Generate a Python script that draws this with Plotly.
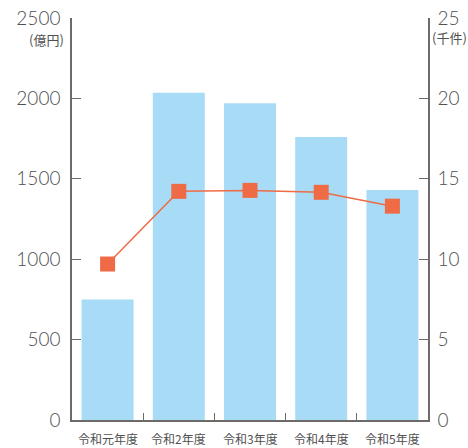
import plotly.graph_objects as go

# Fiscal years, amounts (100 million yen) and counts (thousands)
categories = ["令和元年度", "令和2年度", "令和3年度", "令和4年度", "令和5年度"]
amounts = [750, 2035, 1970, 1760, 1430]
counts = [9.7, 14.22, 14.28, 14.16, 13.3]

left_ticks = [0, 500, 1000, 1500, 2000, 2500]
right_ticks = [0, 5, 10, 15, 20, 25]

axis_color = "#6e6a68"
text_color = "#505050"
num_font = dict(family="Lato, Roboto, sans-serif", size=19, color=text_color, weight=300)

fig = go.Figure()
fig.add_trace(go.Bar(
    x=list(range(len(categories))), y=amounts, width=0.73,
    marker=dict(color="#a8dcf6", line=dict(width=0)),
    yaxis="y",
))
fig.add_trace(go.Scatter(
    x=list(range(len(categories))), y=counts, mode="lines+markers",
    line=dict(color="#ee6b45", width=1.5),
    marker=dict(symbol="square", size=15, color="#ee6b45"),
    yaxis="y2",
))

fig.update_layout(
    width=468, height=448,
    margin=dict(l=72, r=40, t=18, b=28, autoexpand=False),
    paper_bgcolor="white", plot_bgcolor="white",
    showlegend=False,
    xaxis=dict(
        range=[-0.5, len(categories) - 0.5],
        tickvals=[i + 0.5 for i in range(len(categories) - 1)],
        ticktext=[""] * (len(categories) - 1),
        ticks="inside", ticklen=7, tickcolor=axis_color, tickwidth=1.2,
        showline=True, linecolor=axis_color, linewidth=1.5,
        showgrid=False, zeroline=False, fixedrange=True,
    ),
    yaxis=dict(
        range=[0, 2500], tickvals=left_ticks,
        ticks="inside", ticklen=9, tickcolor=axis_color, tickwidth=1.2,
        showline=True, linecolor=axis_color, linewidth=1.5,
        showgrid=False, zeroline=False, tickfont=num_font,
        ticklabelstandoff=6, automargin=False,
    ),
    yaxis2=dict(
        range=[0, 25], tickvals=right_ticks, overlaying="y", side="right",
        ticks="inside", ticklen=9, tickcolor=axis_color, tickwidth=1.2,
        showline=True, linecolor=axis_color, linewidth=1.5,
        showgrid=False, zeroline=False, tickfont=num_font,
        ticklabelstandoff=4, automargin=False,
    ),
)

# Category labels under each bar
for i, c in enumerate(categories):
    fig.add_annotation(
        x=i, y=0, xref="x", yref="paper", yanchor="top", yshift=-8,
        text=c, showarrow=False,
        font=dict(family="Noto Sans CJK JP", size=12, color=text_color),
    )

# Unit labels
fig.add_annotation(
    x=0, xref="paper", xanchor="right", xshift=-6, y=2500, yref="y",
    yanchor="top", yshift=-10, text="(億円)", showarrow=False,
    font=dict(family="Noto Sans CJK JP", size=13, color=text_color),
)
fig.add_annotation(
    x=1, xref="paper", xanchor="left", xshift=2, y=2500, yref="y",
    yanchor="top", yshift=-8, text="(千件)", showarrow=False,
    font=dict(family="Noto Sans CJK JP", size=13, color=text_color),
)

fig.write_html("out.html")
